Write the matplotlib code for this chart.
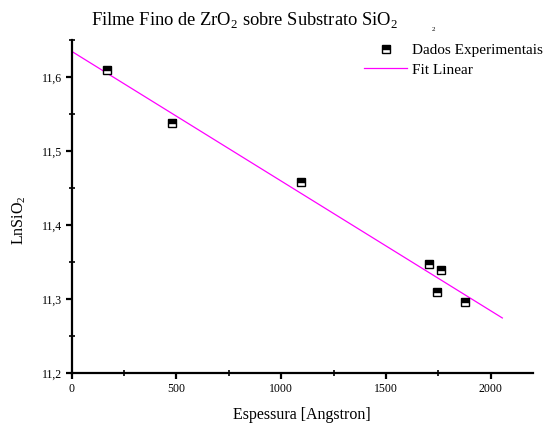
import numpy as np
import matplotlib
matplotlib.use('Agg')
import matplotlib.pyplot as plt
from matplotlib.ticker import MultipleLocator, FuncFormatter
from matplotlib.lines import Line2D

plt.rcParams['font.family'] = ['Liberation Serif', 'DejaVu Serif']
plt.rcParams['mathtext.fontset'] = 'custom'
plt.rcParams['mathtext.rm'] = 'Liberation Serif'

# thickness (Angstrom) and ln of SiO2 signal
espessura = [167, 477, 1094, 1705, 1763, 1741, 1877]
ln_sio2 = [11.609, 11.538, 11.458, 11.347, 11.339, 11.309, 11.296]
fit_range = [0, 2055]

# linear fit of the measured points
coef = np.polyfit(espessura, ln_sio2, 1)
xfit = np.array(fit_range)
yfit = np.polyval(coef, xfit)

fig = plt.figure(figsize=(5.59, 4.28), dpi=100)
ax = fig.add_axes([0.128, 0.1285, 0.825, 0.778])

ax.plot(xfit, yfit, color='#ff00ff', linewidth=0.9, label='Fit Linear')
ax.plot(espessura, ln_sio2, linestyle='none', marker='s', markersize=5.5,
        fillstyle='top', markerfacecolor='black', markerfacecoloralt='white',
        markeredgecolor='black', markeredgewidth=1.0, label='Dados Experimentais')

ax.set_xlim(0, 2200)
ax.set_ylim(11.2, 11.65)
for side in ['top', 'right']:
    ax.spines[side].set_visible(False)
for side in ['left', 'bottom']:
    ax.spines[side].set_linewidth(1.6)

ax.xaxis.set_major_locator(MultipleLocator(500))
ax.xaxis.set_minor_locator(MultipleLocator(250))
ax.yaxis.set_major_locator(MultipleLocator(0.1))
ax.yaxis.set_minor_locator(MultipleLocator(0.05))
ax.yaxis.set_major_formatter(FuncFormatter(lambda v, p: ('%.1f' % v).replace('.', ',')))
ax.tick_params(which='major', direction='out', length=4, width=1.6, labelsize=8.5, pad=3)
ax.tick_params(which='minor', direction='inout', length=4, width=1.2)

ax.set_xlabel('Espessura [Angstron]', fontsize=11.5, labelpad=9)
ax.set_ylabel('LnSiO$_2$', fontsize=11.5)
ax.yaxis.set_label_coords(-0.095, 0.46)
fig.text(0.437, 0.953, 'Filme Fino de ZrO$_2$ sobre Substrato SiO$_2$',
         fontsize=13.3, ha='center', va='center')
fig.text(0.775, 0.93, '2', fontsize=5, ha='center', va='center')

handles = [Line2D([], [], linestyle='none', marker='s', markersize=5.5, fillstyle='top',
                  markerfacecolor='black', markerfacecoloralt='white',
                  markeredgecolor='black', markeredgewidth=1.0),
           Line2D([], [], color='#ff00ff', linewidth=0.9)]
fig.legend(handles, ['Dados Experimentais', 'Fit Linear'], loc='upper left',
           bbox_to_anchor=(0.638, 0.917), frameon=False, fontsize=11,
           handlelength=2.8, handletextpad=0.3, labelspacing=0.4, borderpad=0)

fig.savefig('out.png', dpi=100)
